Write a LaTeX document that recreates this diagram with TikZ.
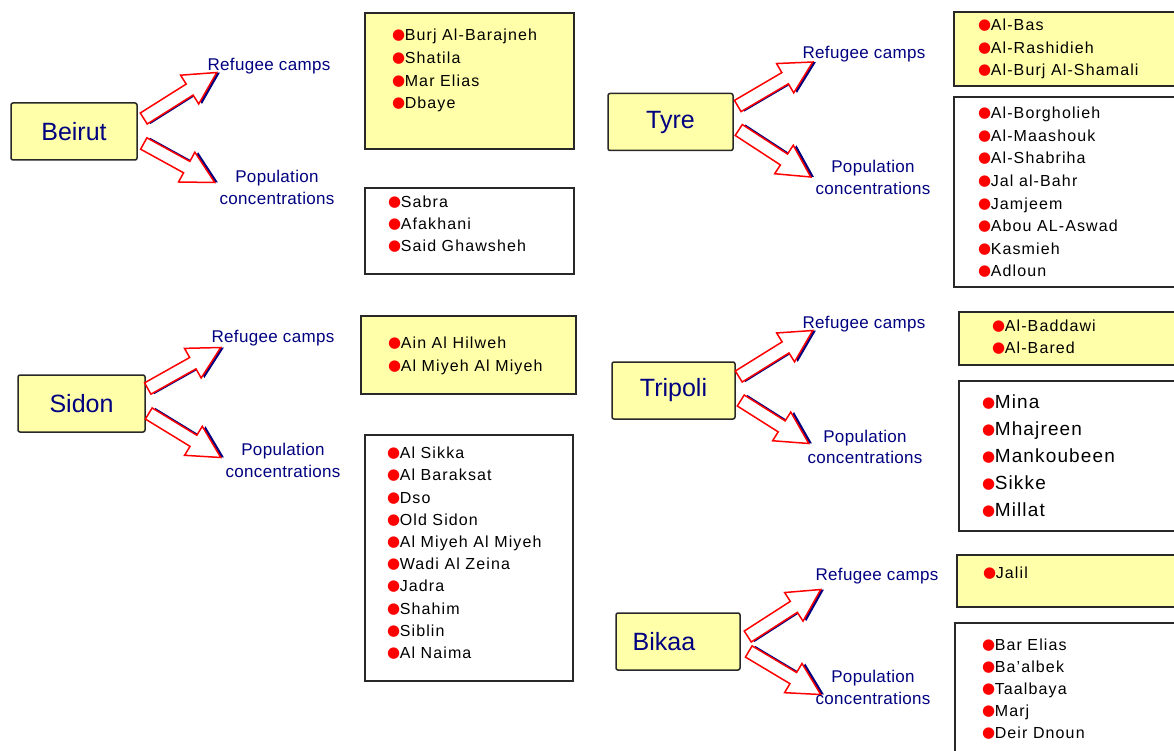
\documentclass[tikz,border=0pt]{standalone}
\usepackage{fontspec}
\setmainfont{Liberation Sans}
\newfontfamily\dejavu{DejaVu Sans}
\newfontfamily\itemfam[LetterSpace=7]{Liberation Sans}
\newfontfamily\bigitemfam[LetterSpace=6]{Liberation Sans}
\newfontfamily\lblfam[LetterSpace=2]{Liberation Sans}
\usetikzlibrary{calc}
\definecolor{paleyellow}{RGB}{255,255,170}
\definecolor{navyblue}{RGB}{0,0,128}
\definecolor{arrowred}{RGB}{255,0,0}
\definecolor{boxline}{RGB}{40,40,40}
\newcommand\bul{\raisebox{1pt}{\color{red}\dejavu\fontsize{15}{15}\selectfont ●}\hspace{-0.5pt}}
\newcommand\fatarrow[2]{%
  \fill[navyblue] let \p1=($(#2)-(#1)$), \n1={atan2(\y1,\x1)}, \n2={veclen(\x1,\y1)} in
    [shift={($(#1)+(3.2,0)$)}, rotate=\n1]
    (0,-6.5) -- (\n2-32,-6.5) -- (\n2-32,-17) -- (\n2,0) -- (\n2-32,17) -- (\n2-32,6.5) -- (0,6.5) -- cycle;
  \filldraw[fill=white, draw=arrowred, line width=1.5pt, line join=miter] let \p1=($(#2)-(#1)$), \n1={atan2(\y1,\x1)}, \n2={veclen(\x1,\y1)} in
    [shift={(#1)}, rotate=\n1]
    (0,-6.5) -- (\n2-32,-6.5) -- (\n2-32,-17) -- (\n2,0) -- (\n2-32,17) -- (\n2-32,6.5) -- (0,6.5) -- cycle;
}
% #1 city node, #2 prefix, then offsets from city.east: up tail, up tip, down tail, down tip
\newcommand\cityarrows[6]{%
  \coordinate (#2ut) at ($(#1.east)+(#3)$);
  \coordinate (#2uh) at ($(#1.east)+(#4)$);
  \coordinate (#2dt) at ($(#1.east)+(#5)$);
  \coordinate (#2dh) at ($(#1.east)+(#6)$);
  \fatarrow{#2ut}{#2uh}
  \fatarrow{#2dt}{#2dh}
}
\newcommand\itemlist[6][]{%
  \foreach \t [count=\i] in {#6} {\node[itm,#1] (#2\i) at (#3,{-(#4+(\i-1)*#5)}) {\bul\t};}}
\begin{document}
\begin{tikzpicture}[x=1pt,y=1pt,
  city/.style={draw=boxline, line width=1.5pt, fill=paleyellow, rounded corners=2pt,
    minimum width=126pt, minimum height=57pt, inner sep=0pt,
    font=\fontsize{25}{28}\selectfont, text=navyblue},
  campbox/.style={draw=boxline, line width=1.6pt, fill=paleyellow, inner sep=0pt, anchor=north west},
  popbox/.style={draw=boxline, line width=1.6pt, fill=white, inner sep=0pt, anchor=north west},
  lbl/.style={text=navyblue, font=\lblfam\fontsize{17}{21}\selectfont, inner sep=0pt, anchor=base},
  itm/.style={anchor=base west, inner sep=0pt, font=\itemfam\fontsize{16}{20}\selectfont},
  bigitm/.style={font=\bigitemfam\fontsize{19}{23}\selectfont}
]
\useasboundingbox (0,0) rectangle (1174,-751);
\clip (0,0) rectangle (1174,-751);
\fill[white] (0,0) rectangle (1174,-751);

% ---------- city boxes
\node[city] (beirut) at (74,-131.5) {Beirut};
\node[city, minimum width=127pt] (sidon) at (81.5,-403.5) {Sidon};
\node[city, minimum width=125pt] (tyre) at (670.5,-122) {Tyre};
\node[city, minimum width=123pt] (tripoli) at (673.5,-390.5) {Tripoli};
\node[city, minimum width=124pt] (bikaa) at (678,-641.5) {Bikaa\kern28pt};

% ---------- arrows
\cityarrows{beirut}{be}{6,13}{79,59}{6,-12}{77,-51}
\cityarrows{sidon}{si}{2,15}{75,56}{3,-10}{75,-54}
\cityarrows{tyre}{ty}{4,16}{79,60}{5,-8}{77,-55}
\cityarrows{tripoli}{tr}{3,14}{77,60}{5,-10}{73,-53}
\cityarrows{bikaa}{bk}{7,5}{80,52}{8,-10}{80,-53}

% ---------- labels
\node[lbl] (berc) at (269,-71) {Refugee camps};
\node[lbl] (bepc1) at (277,-183) {Population};
\node[lbl] (bepc2) at (277,-205) {concentrations};
\node[lbl] (sirc) at (273,-342.5) {Refugee camps};
\node[lbl] (sipc1) at (283,-455) {Population};
\node[lbl] (sipc2) at (283,-477) {concentrations};
\node[lbl] (tyrc) at (864,-59) {Refugee camps};
\node[lbl] (typc1) at (873,-173) {Population};
\node[lbl] (typc2) at (873,-195) {concentrations};
\node[lbl] (trrc) at (864,-328) {Refugee camps};
\node[lbl] (trpc1) at (865,-442) {Population};
\node[lbl] (trpc2) at (865,-463.5) {concentrations};
\node[lbl] (bkrc) at (877,-580) {Refugee camps};
\node[lbl] (bkpc1) at (873,-682) {Population};
\node[lbl] (bkpc2) at (873,-704.5) {concentrations};

% ---------- list boxes
\node[campbox, minimum width=209pt, minimum height=136pt] (bec) at (364,-12) {};
\node[popbox,  minimum width=209pt, minimum height=86pt]  (bep) at (364,-187) {};
\node[campbox, minimum width=215pt, minimum height=78pt]  (sic) at (360,-315) {};
\node[popbox,  minimum width=208pt, minimum height=246pt] (sip) at (364,-434) {};
\node[campbox, minimum width=240pt, minimum height=74pt]  (tyc) at (953,-11) {};
\node[popbox,  minimum width=240pt, minimum height=190pt] (typ) at (953,-96) {};
\node[campbox, minimum width=240pt, minimum height=53pt]  (trc) at (958,-311) {};
\node[popbox,  minimum width=240pt, minimum height=150pt] (trp) at (958,-380) {};
\node[campbox, minimum width=240pt, minimum height=52pt]  (bkc) at (956,-554) {};
\node[popbox,  minimum width=240pt, minimum height=140pt] (bkp) at (954,-622) {};

% ---------- items
\itemlist{beci}{392}{40.7}{22.7}{Burj Al-Barajneh,Shatila,Mar Elias,Dbaye}
\itemlist{bepi}{388}{207.7}{22}{Sabra,Afakhani,Said Ghawsheh}
\itemlist{sici}{388}{348.7}{23}{Ain Al Hilweh,Al Miyeh Al Miyeh}
\itemlist{sipi}{387}{458.7}{22.2}{Al Sikka,Al Baraksat,Dso,Old Sidon,Al Miyeh Al Miyeh,Wadi Al Zeina,Jadra,Shahim,Siblin,Al Naima}
\itemlist{tyci}{978}{30.7}{22.5}{Al-Bas,Al-Rashidieh,Al-Burj Al-Shamali}
\itemlist{typi}{978}{118.7}{22.6}{Al-Borgholieh,Al-Maashouk,Al-Shabriha,Jal al-Bahr,Jamjeem,Abou AL-Aswad,Kasmieh,Adloun}
\itemlist{trci}{992}{331.7}{22}{Al-Baddawi,Al-Bared}
\itemlist[bigitm]{trpi}{982}{408.8}{27}{Mina,Mhajreen,Mankoubeen,Sikke,Millat}
\itemlist{bkci}{983}{578.7}{22}{Jalil}
\itemlist{bkpi}{982}{650.7}{22}{Bar Elias,Ba’albek,Taalbaya,Marj,Deir Dnoun}
\end{tikzpicture}
\end{document}
